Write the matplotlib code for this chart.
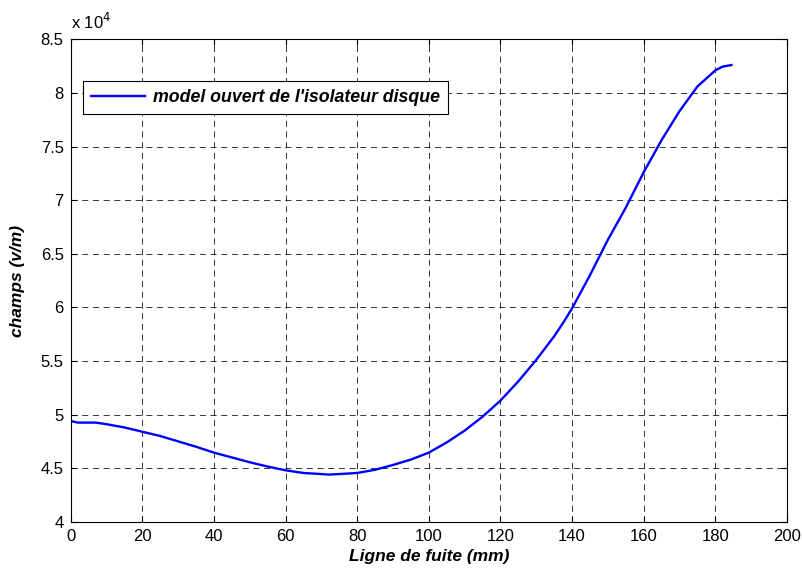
"""Champ electrique le long de la ligne de fuite (isolateur disque, modele ouvert)."""

import matplotlib

matplotlib.use("Agg")
import matplotlib.pyplot as plt
from matplotlib.ticker import FuncFormatter

plt.rcParams["font.family"] = ["Liberation Sans", "DejaVu Sans"]

# ligne de fuite (mm)
LIGNE_MM = [0, 2, 7, 10, 15, 20, 25, 30, 35, 40, 45, 50, 55, 60, 65, 70, 72, 75,
            80, 85, 90, 95, 100, 105, 110, 115, 120, 125, 130, 135, 137.5, 140,
            145, 150, 155, 160, 165, 170, 175, 180, 182, 184.5]
# champ (V/m)
CHAMPS = [49400, 49250, 49250, 49100, 48800, 48400, 48000, 47500, 47000, 46450,
          46000, 45550, 45150, 44800, 44550, 44450, 44400, 44450, 44550, 44850,
          45300, 45800, 46450, 47400, 48500, 49800, 51300, 53100, 55100, 57300,
          58550, 59900, 63000, 66300, 69300, 72600, 75600, 78300, 80600, 82100,
          82450, 82600]

LEGEND = "model ouvert de l'isolateur disque"
X_TICKS = list(range(0, 201, 20))
Y_TICKS = [40000 + 5000 * i for i in range(10)]


def plot():
    fig = plt.figure(figsize=(8.03, 5.74), dpi=100)
    ax = fig.add_axes([0.088, 0.091, 0.892, 0.8405])

    ax.plot(LIGNE_MM, CHAMPS, color="#0000ff", linewidth=1.7, label=LEGEND)

    ax.set_xlim(0, 200)
    ax.set_ylim(40000, 85000)
    ax.set_xticks(X_TICKS)
    ax.set_yticks(Y_TICKS)
    ax.yaxis.set_major_formatter(FuncFormatter(lambda v, _: f"{v / 1e4:g}"))
    ax.tick_params(direction="in", labelsize=12, length=4, pad=5, top=True,
                   right=True, labeltop=False, labelright=False)
    ax.grid(True, color="black", linestyle=(0, (8, 6)), linewidth=0.55)
    for sp in ax.spines.values():
        sp.set_linewidth(0.8)

    ax.text(0.0, 1.015, r"x 10$^{4}$", transform=ax.transAxes, fontsize=12,
            ha="left", va="bottom")

    ax.set_xlabel("Ligne de fuite (mm)", fontsize=12.5, fontweight="bold",
                  fontstyle="italic", labelpad=4)
    ax.set_ylabel("champs (v/m)", fontsize=12.5, fontweight="bold",
                  fontstyle="italic", labelpad=11)

    leg = ax.legend(loc="upper left", bbox_to_anchor=(0.0176, 0.914),
                    borderaxespad=0,
                    prop={"size": 12.8, "weight": "bold", "style": "italic"},
                    fancybox=False, framealpha=1, edgecolor="black",
                    borderpad=0.45, handlelength=3.0, handletextpad=0.5)
    leg.get_frame().set_linewidth(0.8)

    fig.savefig("out.png", dpi=100)


if __name__ == "__main__":
    plot()
